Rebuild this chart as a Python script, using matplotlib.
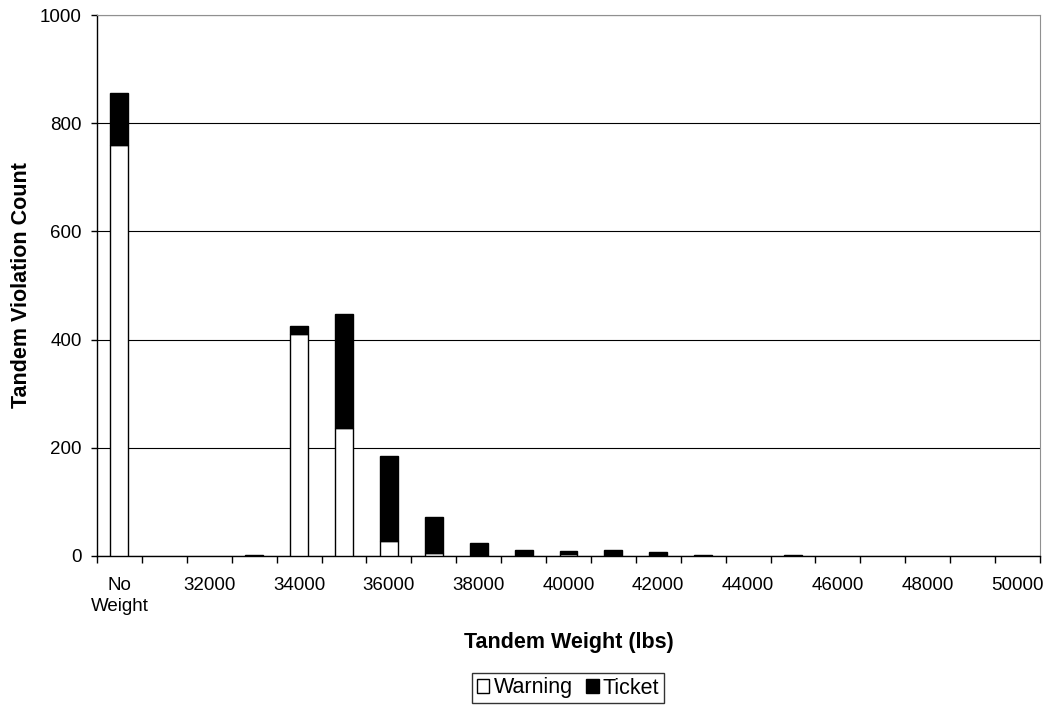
import numpy as np
import matplotlib.pyplot as plt
from matplotlib.patches import Patch

plt.rcParams['font.family'] = ['Liberation Sans', 'DejaVu Sans']

# Tandem weight bins (lbs); first bin is records with no weight recorded
categories = ["No\nWeight"] + [str(w) for w in range(31000, 50001, 1000)]
warning = [760, 0, 0, 0, 410, 237, 27, 6, 0, 0, 4, 0, 0, 0, 0, 0, 0, 0, 0, 0, 0]
ticket = [95, 0, 0, 1, 15, 210, 158, 66, 24, 11, 6, 12, 8, 2, 0, 1, 0, 0, 0, 0, 0]

x = np.arange(len(categories))
warning = np.array(warning)
ticket = np.array(ticket)
W, H = 1047, 706

fig = plt.figure(figsize=(W / 100, H / 100), dpi=100)
ax = fig.add_axes([97 / W, 1 - 556 / H, (1040 - 97) / W, (556 - 15) / H])

# skip empty bins so no zero-height outlines are drawn
w = warning > 0
t = ticket > 0
ax.bar(x[w], warning[w], width=0.4, color="white", edgecolor="black", linewidth=1.0, zorder=3)
ax.bar(x[t], ticket[t], width=0.4, bottom=warning[t], color="black", edgecolor="black",
       linewidth=1.0, zorder=3)

ax.set_xlim(-0.5, len(categories) - 0.5)
ax.set_ylim(0, 1000)

# labels on every other bin, tick marks on the bin boundaries
ax.set_xticks(x[::2])
ax.set_xticklabels(categories[::2], fontsize=13.5, linespacing=1.35)
ax.set_xticks(np.arange(-0.5, len(categories)), minor=True)
ax.tick_params(axis="x", which="major", length=0, pad=15)
ax.tick_params(axis="x", which="minor", length=5, width=1, color="black")

ax.set_yticks(np.arange(0, 1001, 200))
ax.tick_params(axis="y", labelsize=13.5, length=4, width=1, pad=7)
ax.yaxis.grid(True, color="black", linewidth=0.8, zorder=0)
ax.set_axisbelow(True)

for side in ("top", "right"):
    ax.spines[side].set_color("#909090")
for side in ("left", "bottom"):
    ax.spines[side].set_color("black")
    ax.spines[side].set_linewidth(1.0)

ax.set_xlabel("Tandem Weight (lbs)", fontsize=15.5, fontweight="bold")
ax.set_ylabel("Tandem Violation Count", fontsize=15.5, fontweight="bold")
ax.xaxis.set_label_coords(0.5, -0.141)
ax.yaxis.set_label_coords(-0.069, 0.5)

handles = [Patch(facecolor="white", edgecolor="black", label="Warning"),
           Patch(facecolor="black", edgecolor="black", label="Ticket")]
leg = fig.legend(handles=handles, loc="center", bbox_to_anchor=(568 / W, 1 - 688 / H),
                 ncol=2, fontsize=15.5, frameon=True, fancybox=False,
                 handlelength=0.6, handleheight=0.6, handletextpad=0.2,
                 columnspacing=0.6, borderpad=0.2, borderaxespad=0)
leg.get_frame().set_edgecolor("black")
leg.get_frame().set_linewidth(1.0)

fig.savefig("out.png", dpi=100)
